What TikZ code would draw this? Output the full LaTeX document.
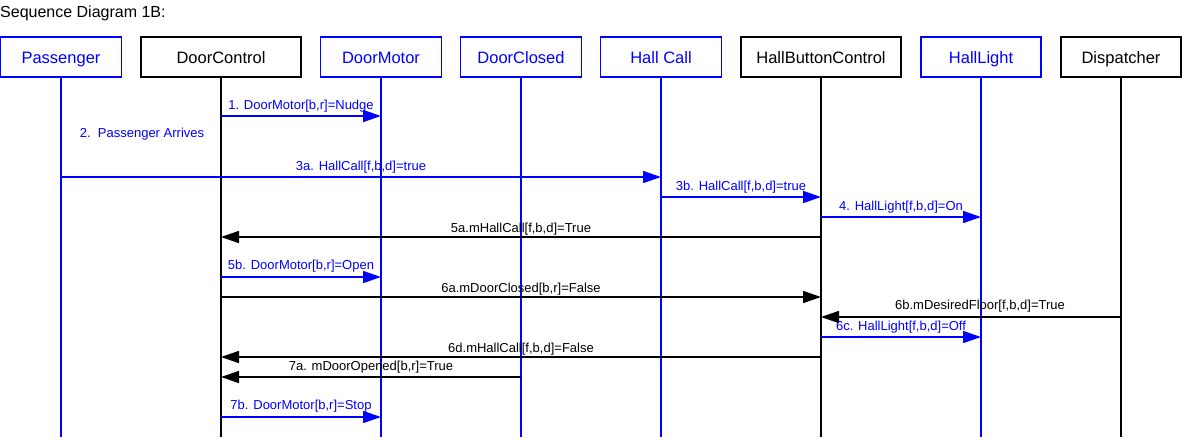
\documentclass[tikz,border=0pt]{standalone}
\usepackage{fontspec}
\setmainfont{Liberation Sans}
\usetikzlibrary{arrows.meta}
\definecolor{seqblue}{RGB}{0,0,255}

\tikzset{
  obj/.style={draw,line width=1.6pt,minimum width=#1,minimum height=40pt,
    inner sep=0pt,text height=13pt,text depth=0pt,font=\fontsize{16.5}{19}\selectfont},
  life/.style={line width=1.6pt},
  msg/.style={line width=1.6pt,-{Triangle[length=18pt,width=12pt]}},
  lbl/.style={font=\fontsize{13}{15}\selectfont,inner sep=0pt,anchor=base,yshift=#1},
  lbl/.default=7pt
}

\begin{document}
\begin{tikzpicture}[x=1pt,y=-1pt]
    \useasboundingbox (0,0) rectangle (1182,437);
    \node[anchor=base west,inner sep=0pt,font=\fontsize{16}{18}\selectfont] (title) at (0,17) {Sequence Diagram 1B:};
    % objects
    \node[obj=121pt,seqblue] (pass) at (61,57) {Passenger};
    \node[obj=160pt] (dc) at (221,57) {DoorControl};
    \node[obj=121pt,seqblue] (dm) at (381,57) {DoorMotor};
    \node[obj=121pt,seqblue] (dcl) at (521,57) {DoorClosed};
    \node[obj=121pt,seqblue] (hc) at (661,57) {Hall Call};
    \node[obj=160pt] (hbc) at (821,57) {HallButtonControl};
    \node[obj=120pt,seqblue] (hl) at (981,57) {HallLight};
    \node[obj=120pt] (disp) at (1121,57) {Dispatcher};
    % lifelines
    \draw[life,seqblue] (pass.south) -- (pass |- 0,437);
    \draw[life] (dc.south) -- (dc |- 0,437);
    \draw[life,seqblue] (dm.south) -- (dm |- 0,437);
    \draw[life,seqblue] (dcl.south) -- (dcl |- 0,437);
    \draw[life,seqblue] (hc.south) -- (hc |- 0,437);
    \draw[life] (hbc.south) -- (hbc |- 0,437);
    \draw[life,seqblue] (hl.south) -- (hl |- 0,437);
    \draw[life] (disp.south) -- (disp |- 0,437);
    % messages
    \draw[msg,seqblue] (dc |- 0,116) -- (dm |- 0,116) node[lbl,midway] {1. DoorMotor[b,r]=Nudge};
    \node[font=\fontsize{13}{15}\selectfont,text=seqblue,inner sep=0pt,anchor=base] (arr) at (142,137) {2.\ \ Passenger Arrives};
    \draw[msg,seqblue] (pass |- 0,177) -- (hc |- 0,177) node[lbl,midway] {3a. HallCall[f,b,d]=true};
    \draw[msg,seqblue] (hc |- 0,197) -- (hbc |- 0,197) node[lbl,midway] {3b. HallCall[f,b,d]=true};
    \draw[msg,seqblue] (hbc |- 0,217) -- (hl |- 0,217) node[lbl,midway] {4. HallLight[f,b,d]=On};
    \draw[msg] (hbc |- 0,237) -- (dc |- 0,237) node[lbl=5pt,midway] {5a.mHallCall[f,b,d]=True};
    \draw[msg,seqblue] (dc |- 0,277) -- (dm |- 0,277) node[lbl=8pt,midway] {5b. DoorMotor[b,r]=Open};
    \draw[msg] (dc |- 0,297) -- (hbc |- 0,297) node[lbl=5pt,midway] {6a.mDoorClosed[b,r]=False};
    \draw[msg] (disp |- 0,317) -- (hbc |- 0,317) node[lbl=8pt,midway,xshift=9pt] {6b.mDesiredFloor[f,b,d]=True};
    \draw[msg,seqblue] (hbc |- 0,337) -- (hl |- 0,337) node[lbl,midway] {6c. HallLight[f,b,d]=Off};
    \draw[msg] (hbc |- 0,357) -- (dc |- 0,357) node[lbl=5pt,midway] {6d.mHallCall[f,b,d]=False};
    \draw[msg] (dcl |- 0,377) -- (dc |- 0,377) node[lbl,midway] {7a. mDoorOpened[b,r]=True};
    \draw[msg,seqblue] (dc |- 0,417) -- (dm |- 0,417) node[lbl=8pt,midway] {7b. DoorMotor[b,r]=Stop};
\end{tikzpicture}
\end{document}
